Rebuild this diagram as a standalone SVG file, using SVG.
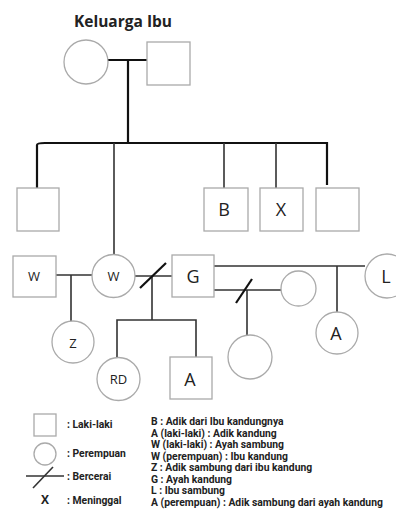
<svg xmlns="http://www.w3.org/2000/svg" width="396" height="515" viewBox="0 0 396 515">
  <style>
    .node { fill: #fff; stroke: #aaa; stroke-width: 1.3; }
    .lbl { font-family: "Open Sans", "Noto Sans", sans-serif; fill: #222; text-anchor: middle; }
    .big { font-size: 18px; }
    .small { font-size: 13px; }
    .link { fill: none; stroke: #111; stroke-width: 2.2; }
    .link2 { fill: none; stroke: #333; stroke-width: 1.6; }
    .legend { font-family: Roboto, "Noto Sans", sans-serif; font-weight: 700; font-size: 10.35px; fill: #222; }
  </style>
  <rect width="396" height="515" fill="#fff"/>

  <text x="123" y="27" font-family="Open Sans, sans-serif" font-weight="700" font-size="15.5" fill="#222" text-anchor="middle">Keluarga Ibu</text>

  <!-- connectors -->
  <g id="connectors">
    <path class="link" d="M107 60 H147 M128 60 V143"/>
    <path class="link" d="M37 188 V145 Q37 143 45 143 H327 V185"/>
    <path class="link2" d="M114 143 V255"/>
    <path class="link2" d="M224 143 V188 M276 143 V188"/>
    <path class="link2" d="M56 275 H92 M71 275 V321"/>
    <path class="link2" d="M135 276 H172 M152 276 V320 M117 358 V320 H196 V357"/>
    <path class="link" d="M140 288 L166 263"/>
    <path class="link2" d="M214 266 H365 M337 266 V312"/>
    <path class="link2" d="M214 290 H281 M247 290 V336"/>
    <path class="link" d="M236 303 L252 279"/>
  </g>

  <!-- grandparents -->
  <g id="nenek"><circle class="node" cx="86" cy="62" r="22"/></g>
  <g id="kakek"><rect class="node" x="147" y="42" width="43" height="43"/></g>

  <!-- children -->
  <g id="anak1"><rect class="node" x="17" y="188" width="42" height="43"/></g>
  <g id="B"><rect class="node" x="204" y="188" width="44" height="43"/><text class="lbl big" x="224" y="216">B</text></g>
  <g id="X"><rect class="node" x="260" y="188" width="43" height="43"/><text class="lbl big" x="281" y="216">X</text></g>
  <g id="anak5"><rect class="node" x="316" y="188" width="43" height="43"/></g>

  <!-- parents generation -->
  <g id="W-laki"><rect class="node" x="13" y="256" width="43" height="41"/><text class="lbl small" x="34" y="281">W</text></g>
  <g id="W-perempuan"><circle class="node" cx="113.5" cy="276" r="21.5"/><text class="lbl small" x="113.5" y="281">W</text></g>
  <g id="G"><rect class="node" x="172" y="255" width="42" height="42"/><text class="lbl big" x="193" y="283">G</text></g>
  <g id="L"><circle class="node" cx="387" cy="276" r="22"/><text class="lbl big" x="386" y="283">L</text></g>
  <g id="istri2"><circle class="node" cx="298.5" cy="288.5" r="17.5"/></g>

  <!-- youngest generation -->
  <g id="Z"><circle class="node" cx="73" cy="342" r="21"/><text class="lbl small" x="73" y="348">Z</text></g>
  <g id="RD"><circle class="node" cx="118.5" cy="379" r="21.5"/><text class="lbl small" x="118.5" y="384">RD</text></g>
  <g id="A-laki"><rect class="node" x="170" y="357" width="42" height="42"/><text class="lbl big" x="190" y="386">A</text></g>
  <g id="anak-G2"><circle class="node" cx="250" cy="357" r="22"/></g>
  <g id="A-perempuan"><circle class="node" cx="337" cy="333" r="21"/><text class="lbl big" x="336" y="340">A</text></g>

  <!-- legend -->
  <g id="legend">
    <rect class="node" x="34" y="414" width="22" height="22"/>
    <circle class="node" cx="45" cy="454" r="11"/>
    <path class="link2" d="M26 476 H64"/>
    <path class="link2" d="M33 488 L53 467"/>
    <text x="45" y="504" font-family="Open Sans, sans-serif" font-weight="700" font-size="12" fill="#222" text-anchor="middle">X</text>
    <text class="legend" x="67" y="428">: Laki-laki</text>
    <text class="legend" x="67" y="457">: Perempuan</text>
    <text class="legend" x="67" y="480">: Bercerai</text>
    <text class="legend" x="67" y="504">: Meninggal</text>
    <text class="legend" x="151" y="425">B : Adik dari Ibu kandungnya</text>
    <text class="legend" x="151" y="436.5">A (laki-laki) : Adik kandung</text>
    <text class="legend" x="151" y="448">W (laki-laki) : Ayah sambung</text>
    <text class="legend" x="151" y="459.5">W (perempuan) : Ibu kandung</text>
    <text class="legend" x="151" y="471">Z : Adik sambung dari ibu kandung</text>
    <text class="legend" x="151" y="482.5">G : Ayah kandung</text>
    <text class="legend" x="151" y="494">L : Ibu sambung</text>
    <text class="legend" x="151" y="505.5">A (perempuan) : Adik sambung dari ayah kandung</text>
  </g>
</svg>
